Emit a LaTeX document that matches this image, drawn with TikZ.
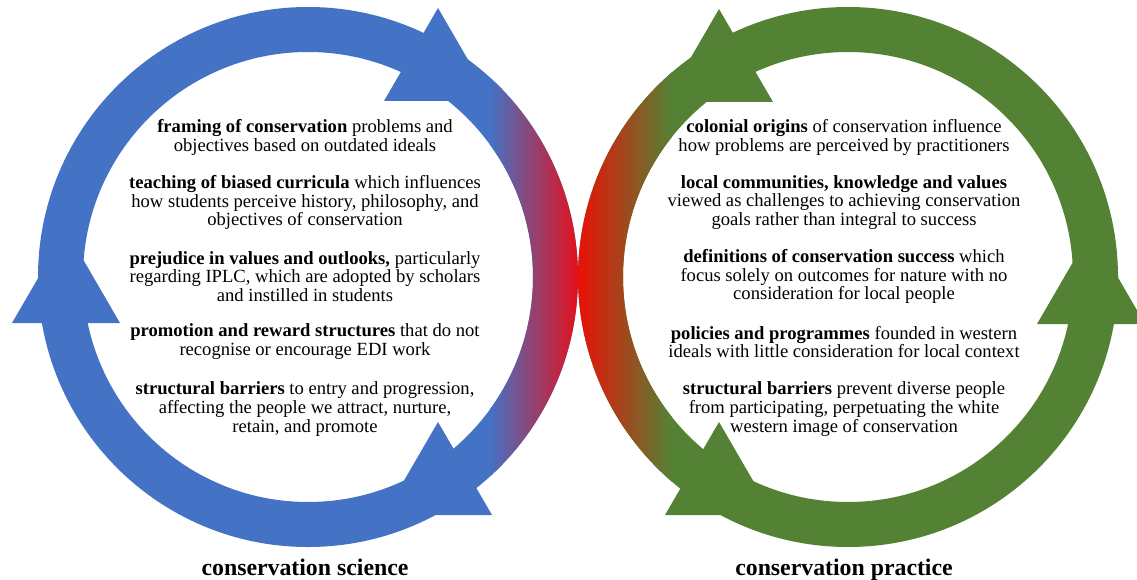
\documentclass[tikz,border=0pt]{standalone}
\usepackage{fontspec}
\setmainfont{Liberation Serif}
\definecolor{ringblue}{HTML}{4472C4}
\definecolor{ringgreen}{HTML}{548235}
\definecolor{ringred}{HTML}{FF0000}

\tikzset{
  item/.style={align=center, inner sep=0pt, font=\fontsize{18.6}{18.6}\selectfont},
  cyclelabel/.style={inner sep=0pt, anchor=base, font=\fontsize{23.8}{26}\selectfont\bfseries}
}

\begin{document}
\begin{tikzpicture}[x=1pt,y=-1pt]
\useasboundingbox (0,0) rectangle (1137,580);
\coordinate (lc) at (308,277);
\coordinate (rc) at (848,277);

% the two rings
\fill[ringblue, even odd rule] (lc) circle[radius=270] (lc) circle[radius=225];
\fill[ringgreen, even odd rule] (rc) circle[radius=270] (rc) circle[radius=225];

% blend to red where they meet
\begin{scope}[shift={(lc)}]
\shade[left color=ringblue, right color=ringred]
  (47.6:270) arc[start angle=47.6, end angle=-47.6, radius=270]
  -- (-36:225) arc[start angle=-36, end angle=36, radius=225] -- cycle;
\end{scope}
\begin{scope}[shift={(rc)}]
\shade[left color=ringred, right color=ringgreen]
  (130.7:270) arc[start angle=130.7, end angle=229.3, radius=270]
  -- (218.5:225) arc[start angle=218.5, end angle=141.5, radius=225] -- cycle;
\end{scope}

% arrow heads
\foreach \ax/\ay in {438/8, 66/230, 438/422}
  \fill[ringblue] (\ax,\ay) -- ++(54,93) -- ++(-108,0) -- cycle;
\foreach \ax/\ay in {719/9, 1091/231, 719/422}
  \fill[ringgreen] (\ax,\ay) -- ++(54,93) -- ++(-108,0) -- cycle;

% science side
\node[item] (sci1) at (305,137.5) {\textbf{framing of conservation} problems and\\objectives based on outdated ideals};
\node[item] (sci2) at (305,202.5) {\textbf{teaching of biased curricula} which influences\\how students perceive history, philosophy, and\\objectives of conservation};
\node[item] (sci3) at (305,276.5) {\textbf{prejudice in values and outlooks,} particularly\\regarding IPLC, which are adopted by scholars\\and instilled in students};
\node[item] (sci4) at (305,341.5) {\textbf{promotion and reward structures} that do not\\recognise or encourage EDI work};
\node[item] (sci5) at (305,409) {\textbf{structural barriers} to entry and progression,\\affecting the people we attract, nurture,\\retain, and promote};

% practice side
\node[item] (prac1) at (844,137.5) {\textbf{colonial origins} of conservation influence\\how problems are perceived by practitioners};
\node[item] (prac2) at (844,202.5) {\textbf{local communities, knowledge and values}\\viewed as challenges to achieving conservation\\goals rather than integral to success};
\node[item] (prac3) at (844,276.5) {\textbf{definitions of conservation success} which\\focus solely on outcomes for nature with no\\consideration for local people};
\node[item] (prac4) at (844,342) {\textbf{policies and programmes} founded in western\\ideals with little consideration for local context};
\node[item] (prac5) at (844,409) {\textbf{structural barriers} prevent diverse people\\from participating, perpetuating the white\\western image of conservation};

\node[cyclelabel] (scilabel) at (305,575) {conservation science};
\node[cyclelabel] (praclabel) at (844,575) {conservation practice};
\end{tikzpicture}
\end{document}
